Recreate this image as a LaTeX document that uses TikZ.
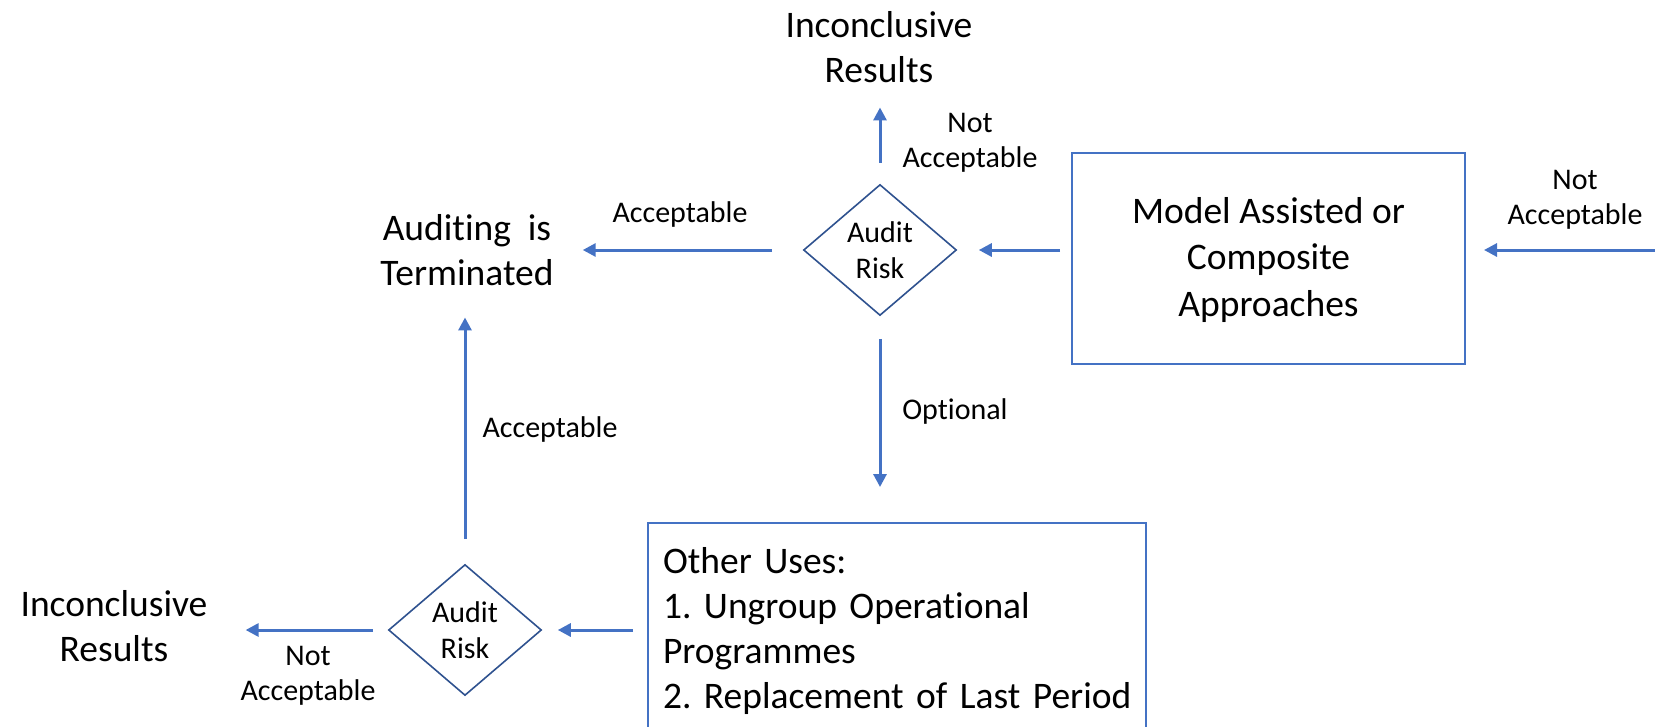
\documentclass[tikz,border=0pt]{standalone}
\usepackage{fontspec}
\setmainfont{Carlito}[Ligatures=NoCommon]
\usetikzlibrary{shapes.geometric,arrows.meta}
\definecolor{flowblue}{HTML}{4472C4}
\definecolor{edgeblue}{HTML}{2F528F}

\begin{document}
\frenchspacing
\begin{tikzpicture}[x=1pt,y=-1pt,
  bigtext/.style={font=\fontsize{37.5}{45}\selectfont\frenchspacing},
  txt/.style={inner sep=0pt, align=center, anchor=base},
  edgetext/.style={txt, font=\fontsize{30}{35}\selectfont},
  outcome/.style={txt, bigtext},
  decision/.style={diamond, draw=edgeblue, line width=1.6pt,
    minimum width=153pt, minimum height=131pt, inner sep=0pt,
    align=center, font=\fontsize{30}{36.5}\selectfont},
  stagebox/.style={draw=flowblue, line width=2pt, bigtext},
  flow/.style={draw=flowblue, line width=3pt,
    -{Triangle[length=13pt,width=13pt]}},
]
\path[use as bounding box] (0,0) rectangle (1655,726);
\clip (0,0) rectangle (1655,726);

% decisions
\node[decision] (d1) at (880,250) {Audit\\Risk};
\node[decision] (d2) at (465,630) {Audit\\Risk};

% outcomes (placed by the baseline of their last line)
\node[outcome] (res1) at (879,82) {Inconclusive\\Results};
\node[outcome] (term) at (467,285) {Auditing\ \ is\\Terminated};
\node[outcome] (res2) at (114,661) {Inconclusive\\Results};

% stages
\node[stagebox, minimum width=393pt, minimum height=211pt, align=center,
  font=\fontsize{37.5}{46.5}\selectfont, text depth=4pt]
  (model) at (1268.5,258.5) {Model Assisted or\\Composite\\Approaches};
\node[stagebox, anchor=north west, text width=468pt, align=left,
  inner xsep=15pt, inner ysep=24pt]
  (uses) at (647,522) {\mbox{Other Uses:}\\\mbox{1. Ungroup Operational}\\Programmes\\\mbox{2. Replacement of Last Period}};

% connector labels
\node[edgetext] (na1) at (970,167) {Not\\Acceptable};
\node[edgetext] (acc1) at (680,222) {Acceptable};
\node[edgetext] (opt) at (955,419) {Optional};
\node[edgetext] (acc2) at (550,437) {Acceptable};
\node[edgetext] (na2) at (308,700) {Not\\Acceptable};
\node[edgetext] (na3) at (1575,224) {Not\\Acceptable};

% connectors
\coordinate (inlet) at (1655,250);
\draw[flow, shorten >=18pt] (inlet) -- (model.east |- inlet);
\draw[flow, shorten <=11pt, shorten >=21.5pt] (model.west |- d1.east) -- (d1.east);
\draw[flow, shorten <=30.5pt, shorten >=29pt] (d1.west) -- (term.east |- d1.west);
\draw[flow, shorten <=21pt, shorten >=25pt] (d1.north) -- (d1.north |- res1.south);
\draw[flow, shorten <=22.5pt, shorten >=35pt] (d1.south) -- (d1.south |- uses.north);
\draw[flow, shorten <=14pt, shorten >=15.5pt] (uses.west |- d2.east) -- (d2.east);
\draw[flow, shorten <=14.5pt, shorten >=38pt] (d2.west) -- (res2.east |- d2.west);
\draw[flow, shorten <=24.5pt, shorten >=32pt] (d2.north) -- (d2.north |- term.south);
\end{tikzpicture}
\end{document}
